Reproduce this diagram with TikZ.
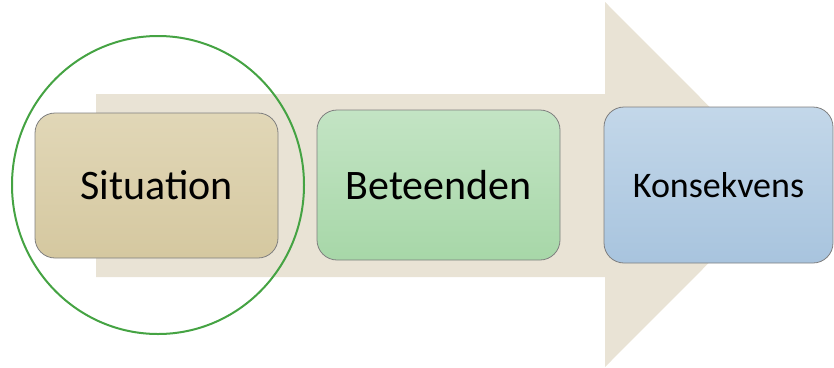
\documentclass[tikz,border=0pt]{standalone}
\usepackage{fontspec}
\setmainfont{Carlito}
\usetikzlibrary{positioning}
\definecolor{pil}{HTML}{E9E3D5}
\definecolor{ring}{HTML}{45A343}
\definecolor{kant}{HTML}{7F7F7F}

\begin{document}
\begin{tikzpicture}[x=1pt,y=-1pt,
		ruta/.style={draw=kant,line width=0.8pt,rounded corners=20pt,inner sep=0pt,text=black},
		stor/.style={font=\fontsize{42}{42}\selectfont},
		liten/.style={font=\fontsize{36}{36}\selectfont}]
		\useasboundingbox (0,0) rectangle (834,367);
		\path
		(96,94) coordinate (A)
		(605,94) coordinate (B)
		(605,2) coordinate (C)
		(787,184.5) coordinate (T)
		(605,367) coordinate (D)
		(605,277) coordinate (E)
		(96,277) coordinate (F);
		\fill[pil] (A)--(B)--(C)--(T)--(D)--(E)--(F)--cycle;
		\node[ruta,stor,minimum width=243pt,minimum height=145pt,top color={rgb,255:red,225;green,215;blue,183},bottom color={rgb,255:red,213;green,200;blue,160}] (situation) at (156.5,185.5) {Situation};
		\node[ruta,stor,minimum width=243pt,minimum height=150pt,top color={rgb,255:red,195;green,228;blue,196},bottom color={rgb,255:red,167;green,215;blue,168}] (beteenden) at (438.5,185) {Beteenden};
		\node[ruta,liten,minimum width=229pt,minimum height=156pt,top color={rgb,255:red,195;green,215;blue,233},bottom color={rgb,255:red,168;green,196;blue,222}] (konsekvens) at (718.5,185) {Konsekvens};
		\draw[ring,line width=2pt] (158,185) ellipse [x radius=146pt,y radius=149pt];
	\end{tikzpicture}
\end{document}
